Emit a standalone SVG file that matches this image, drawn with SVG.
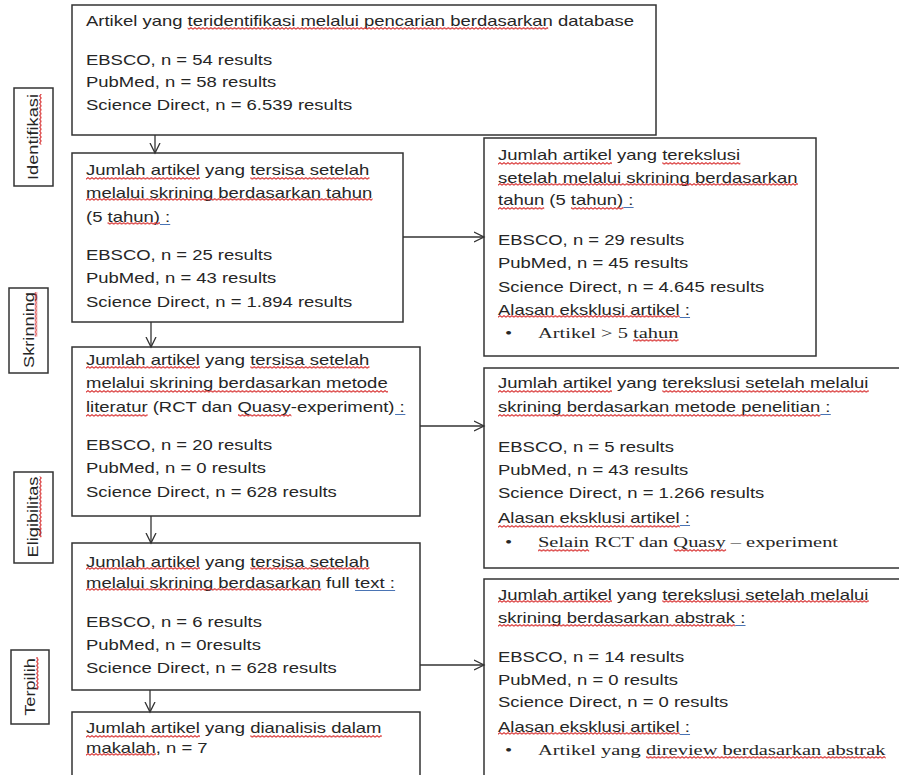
<svg xmlns="http://www.w3.org/2000/svg" width="899" height="775" viewBox="0 0 899 775">
<style>
.box{fill:#fff;stroke:#333;stroke-width:1.5}
.t{font-family:"Liberation Sans",Arial,sans-serif;font-size:14px;fill:#262626}
.s{font-family:"Liberation Serif","Times New Roman",serif;font-size:15.5px;fill:#262626}
.w{fill:url(#wv)}
.b{fill:#4a74b4}
.conn line{stroke:#333;stroke-width:1.3;marker-end:url(#arr)}
</style>
<defs>
<marker id="arr" markerWidth="12" markerHeight="12" refX="10" refY="5" orient="auto" markerUnits="userSpaceOnUse" viewBox="0 0 12 10">
<path d="M0,0 L10,5 L0,10" fill="none" stroke="#333" stroke-width="1.3"/>
</marker>
<pattern id="wv" patternUnits="userSpaceOnUse" width="3" height="3">
<path d="M-0.2,2.4 L1.5,0.6 L3.2,2.4" fill="none" stroke="#d83030" stroke-width="0.9"/>
</pattern>
</defs>
<rect width="899" height="775" fill="#fff"/>

<g id="label-identifikasi">
<rect class="box" x="14" y="88" width="39" height="98"/>
<g transform="translate(33,137) rotate(-90) scale(1.3,1)">
<text class="t" text-anchor="middle" y="5">Identifikasi</text>
<rect class="w" x="-5.83" y="6" width="38.89" height="3"/>
</g>
</g>
<g id="label-skrinning">
<rect class="box" x="9" y="288" width="39" height="85"/>
<g transform="translate(28.5,330) rotate(-90) scale(1.3,1)">
<text class="t" text-anchor="middle" y="5">Skrinning</text>
<rect class="w" x="-5.07" y="6" width="34.24" height="3"/>
</g>
</g>
<g id="label-eligibilitas">
<rect class="box" x="14" y="472" width="39" height="91"/>
<g transform="translate(33,517) rotate(-90) scale(1.3,1)">
<text class="t" text-anchor="middle" y="5">Eligibilitas</text>
<rect class="w" x="-15.57" y="6" width="46.69" height="3"/>
</g>
</g>
<g id="label-terpilih">
<rect class="box" x="11" y="650" width="38" height="74"/>
<g transform="translate(30,687) rotate(-90) scale(1.3,1)">
<text class="t" text-anchor="middle" y="5">Terpilih</text>
<rect class="w" x="-1.95" y="6" width="24.89" height="3"/>
</g>
</g>

<g id="box-database">
<rect class="box" x="72" y="5" width="584" height="130"/>
<g transform="translate(86,0) scale(1.32,1)">
<text class="t" y="26">Artikel yang teridentifikasi melalui pencarian berdasarkan database</text>
<rect class="w" x="77.03" y="27" width="273.13" height="3"/>
<text class="t" y="65">EBSCO, n = 54 results</text>
<text class="t" y="87">PubMed, n = 58 results</text>
<text class="t" y="110">Science Direct, n = 6.539 results</text>
</g>
</g>

<g id="box-tahun">
<rect class="box" x="72" y="153" width="331" height="169"/>
<g transform="translate(86,0) scale(1.32,1)">
<text class="t" y="175">Jumlah artikel yang tersisa setelah</text>
<rect class="w" x="0" y="177" width="86.35" height="3"/>
<rect class="w" x="124.49" y="177" width="90.26" height="3"/>
<text class="t" y="198">melalui skrining berdasarkan tahun</text>
<rect class="w" x="0" y="198" width="217.08" height="3"/>
<text class="t" y="222">(5 tahun) :</text>
<rect class="w" x="16.34" y="222" width="39.69" height="3"/>
<rect class="b" x="56.03" y="224" width="7.78" height="1"/>
<text class="t" y="260">EBSCO, n = 25 results</text>
<text class="t" y="283">PubMed, n = 43 results</text>
<text class="t" y="307">Science Direct, n = 1.894 results</text>
</g>
</g>

<g id="excl-tahun">
<rect class="box" x="484" y="138" width="332" height="218"/>
<g transform="translate(498,0) scale(1.32,1)">
<text class="t" y="160">Jumlah artikel yang terekslusi</text>
<rect class="w" x="0" y="162" width="86.35" height="3"/>
<rect class="w" x="124.49" y="162" width="59.12" height="3"/>
<text class="t" y="183">setelah melalui skrining berdasarkan</text>
<rect class="w" x="0" y="183" width="227.19" height="3"/>
<text class="t" y="205">tahun (5 tahun) :</text>
<rect class="w" x="0" y="207" width="35.03" height="3"/>
<rect class="w" x="55.26" y="207" width="39.69" height="3"/>
<rect class="b" x="94.95" y="207" width="7.78" height="1"/>
<text class="t" y="245">EBSCO, n = 29 results</text>
<text class="t" y="268">PubMed, n = 45 results</text>
<text class="t" y="292">Science Direct, n = 4.645 results</text>
<text class="t" y="315">Alasan eksklusi artikel :</text>
<rect class="w" x="0" y="315" width="137.7" height="3"/>
<rect class="b" x="137.7" y="317" width="7.78" height="1"/>
<text class="s" x="5.3" y="338">•</text>
<text class="s" x="30.3" y="338">Artikel &gt; 5 tahun</text>
<rect class="w" x="102.33" y="339" width="34.44" height="3"/>
</g>
</g>

<g id="box-metode">
<rect class="box" x="72" y="347" width="348" height="169"/>
<g transform="translate(86,0) scale(1.32,1)">
<text class="t" y="365">Jumlah artikel yang tersisa setelah</text>
<rect class="w" x="0" y="366" width="86.35" height="3"/>
<rect class="w" x="124.49" y="366" width="90.26" height="3"/>
<text class="t" y="388">melalui skrining berdasarkan metode</text>
<rect class="w" x="0" y="390" width="228.75" height="3"/>
<text class="t" y="412">literatur (RCT dan Quasy-experiment) :</text>
<rect class="w" x="0" y="414" width="46.68" height="3"/>
<rect class="w" x="115.14" y="414" width="40.46" height="3"/>
<rect class="b" x="234.16" y="414" width="7.78" height="1"/>
<text class="t" y="450">EBSCO, n = 20 results</text>
<text class="t" y="473">PubMed, n = 0 results</text>
<text class="t" y="497">Science Direct, n = 628 results</text>
</g>
</g>

<g id="excl-metode">
<rect class="box" x="484" y="368" width="430" height="200"/>
<g transform="translate(498,0) scale(1.32,1)">
<text class="t" y="388">Jumlah artikel yang terekslusi setelah melalui</text>
<rect class="w" x="0" y="390" width="86.35" height="3"/>
<rect class="w" x="124.49" y="390" width="156.38" height="3"/>
<text class="t" y="412">skrining berdasarkan metode penelitian :</text>
<rect class="w" x="0" y="414" width="244.33" height="3"/>
<rect class="b" x="244.33" y="414" width="7.78" height="1"/>
<text class="t" y="452">EBSCO, n = 5 results</text>
<text class="t" y="475">PubMed, n = 43 results</text>
<text class="t" y="498">Science Direct, n = 1.266 results</text>
<text class="t" y="523">Alasan eksklusi artikel :</text>
<rect class="w" x="0" y="525" width="137.7" height="3"/>
<rect class="b" x="137.7" y="525" width="7.78" height="1"/>
<text class="s" x="5.3" y="547">•</text>
<text class="s" x="30.3" y="547">Selain RCT dan Quasy – experiment</text>
<rect class="w" x="30.3" y="549" width="38.75" height="3"/>
<rect class="w" x="133.2" y="549" width="39.6" height="3"/>
</g>
</g>

<g id="box-fulltext">
<rect class="box" x="72" y="543" width="348" height="147"/>
<g transform="translate(86,0) scale(1.32,1)">
<text class="t" y="567">Jumlah artikel yang tersisa setelah</text>
<rect class="w" x="0" y="567" width="86.35" height="3"/>
<rect class="w" x="124.49" y="567" width="90.26" height="3"/>
<text class="t" y="588">melalui skrining berdasarkan full text :</text>
<rect class="w" x="0" y="588" width="178.16" height="3"/>
<rect class="b" x="203.84" y="590" width="30.35" height="1"/>
<text class="t" y="627">EBSCO, n = 6 results</text>
<text class="t" y="650">PubMed, n = 0results</text>
<text class="t" y="673">Science Direct, n = 628 results</text>
</g>
</g>

<g id="excl-abstrak">
<rect class="box" x="484" y="579" width="430" height="210"/>
<g transform="translate(498,0) scale(1.32,1)">
<text class="t" y="600">Jumlah artikel yang terekslusi setelah melalui</text>
<rect class="w" x="0" y="600" width="86.35" height="3"/>
<rect class="w" x="124.49" y="600" width="156.38" height="3"/>
<text class="t" y="623">skrining berdasarkan abstrak :</text>
<rect class="w" x="0" y="624" width="179.73" height="3"/>
<rect class="b" x="179.73" y="625" width="7.78" height="1"/>
<text class="t" y="662">EBSCO, n = 14 results</text>
<text class="t" y="685">PubMed, n = 0 results</text>
<text class="t" y="707">Science Direct, n = 0 results</text>
<text class="t" y="732">Alasan eksklusi artikel :</text>
<rect class="w" x="0" y="732" width="137.7" height="3"/>
<rect class="b" x="137.7" y="734" width="7.78" height="1"/>
<text class="s" x="5.3" y="755">•</text>
<text class="s" x="30.3" y="755">Artikel yang direview berdasarkan abstrak</text>
<rect class="w" x="112.09" y="756" width="181.63" height="3"/>
</g>
</g>

<g id="box-dianalisis">
<rect class="box" x="72" y="712" width="348" height="80"/>
<g transform="translate(86,0) scale(1.32,1)">
<text class="t" y="733">Jumlah artikel yang dianalisis dalam</text>
<rect class="w" x="0" y="735" width="86.35" height="3"/>
<rect class="w" x="124.49" y="735" width="99.58" height="3"/>
<text class="t" y="753">makalah, n = 7</text>
<rect class="w" x="0" y="753" width="52.91" height="3"/>
</g>
</g>

<g id="connectors" class="conn">
<line x1="155" y1="135" x2="155" y2="153"/>
<line x1="151" y1="322" x2="151" y2="347"/>
<line x1="151" y1="516" x2="151" y2="543"/>
<line x1="150" y1="690" x2="150" y2="712"/>
<line x1="403" y1="237" x2="484" y2="237"/>
<line x1="420" y1="426" x2="484" y2="426"/>
<line x1="420" y1="665" x2="484" y2="665"/>
</g>
</svg>
